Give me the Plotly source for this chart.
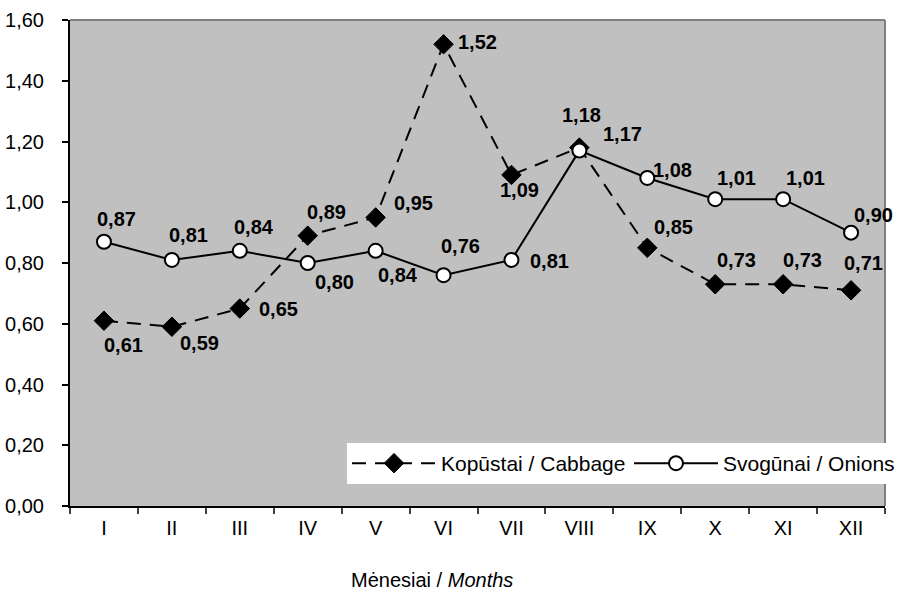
import plotly.graph_objects as go

months = ["I", "II", "III", "IV", "V", "VI", "VII", "VIII", "IX", "X", "XI", "XII"]
cabbage = [0.61, 0.59, 0.65, 0.89, 0.95, 1.52, 1.09, 1.18, 0.85, 0.73, 0.73, 0.71]
onions = [0.87, 0.81, 0.84, 0.80, 0.84, 0.76, 0.81, 1.17, 1.08, 1.01, 1.01, 0.90]

# label offsets in screen pixels (dx right, dy down) - styling only
cab_off = [(20, 24), (28, 16), (39, 0), (19, -24), (38, -14), (34, -2), (8, 15),
           (2, -33), (26, -21), (21, -24), (19, -24), (12, -27)]
oni_off = [(13, -23), (17, -25), (14, -24), (27, 19), (22, 24), (17, -29), (38, 1),
           (43, -17), (25, -8), (21, -21), (22, -21), (22, -18)]

FONT = "Liberation Sans, Arial, sans-serif"

fig = go.Figure()
fig.add_trace(go.Scatter(
    x=months, y=cabbage, name="Kopūstai / Cabbage", mode="lines+markers",
    line=dict(color="black", width=2, dash="14px,9px"),
    marker=dict(symbol="diamond", size=15, color="black", line=dict(color="black", width=1)),
))
fig.add_trace(go.Scatter(
    x=months, y=onions, name="Svogūnai / Onions", mode="lines+markers",
    line=dict(color="black", width=2),
    marker=dict(symbol="circle", size=14, color="white", line=dict(color="black", width=2)),
))

def fmt(v):
    return f"{v:.2f}".replace(".", ",")

ann = []
for series, offs in ((cabbage, cab_off), (onions, oni_off)):
    for m, v, (dx, dy) in zip(months, series, offs):
        ann.append(dict(x=m, y=v, xref="x", yref="y", text=f"<b>{fmt(v)}</b>",
                        showarrow=False, xshift=dx, yshift=-dy,
                        font=dict(family=FONT, size=20, color="black")))
ann.append(dict(x=(432 - 70) / 815, y=-(580 - 506) / 486, xref="paper", yref="paper",
                xanchor="center", yanchor="middle", text="Mėnesiai / <i>Months</i>",
                showarrow=False, font=dict(family=FONT, size=20, color="black")))

fig.update_layout(
    width=899, height=593,
    margin=dict(l=70, r=14, t=20, b=87, autoexpand=False),
    paper_bgcolor="white", plot_bgcolor="#C0C0C0",
    separators=",.",
    font=dict(family=FONT, size=20, color="black"),
    showlegend=True,
    legend=dict(orientation="h", x=(347 - 70) / 815, xanchor="left",
                y=(506 - 443) / 486, yanchor="top", bgcolor="white",
                font=dict(family=FONT, size=21, color="black"),
                itemwidth=84, entrywidth=183, tracegroupgap=0),
    annotations=ann,
    shapes=[
        dict(type="line", xref="paper", yref="paper", x0=0, x1=1, y0=1, y1=1,
             line=dict(color="#808080", width=2)),
        dict(type="line", xref="paper", yref="paper", x0=1, x1=1, y0=0, y1=1,
             line=dict(color="#808080", width=2)),
    ],
)
fig.update_xaxes(type="category", range=[-0.5, len(months) - 0.5],
                 tickson="boundaries", ticks="outside", ticklen=6,
                 tickcolor="#404040", tickwidth=1.5, showline=True, linecolor="black",
                 linewidth=2, showgrid=False, zeroline=False, ticklabelstandoff=3,
                 automargin=False,
                 tickfont=dict(family=FONT, size=20, color="black"))
fig.update_yaxes(range=[0, 1.6], dtick=0.2, tick0=0, tickformat=".2f", ticks="outside",
                 ticklen=6, tickcolor="black", tickwidth=1.5, showline=True,
                 linecolor="black", linewidth=2, showgrid=False, zeroline=False,
                 ticklabelstandoff=14, automargin=False,
                 tickfont=dict(family=FONT, size=20, color="black"))

fig.write_html("out.html", config={"displayModeBar": False},
               post_script="document.body.style.margin='0';")
